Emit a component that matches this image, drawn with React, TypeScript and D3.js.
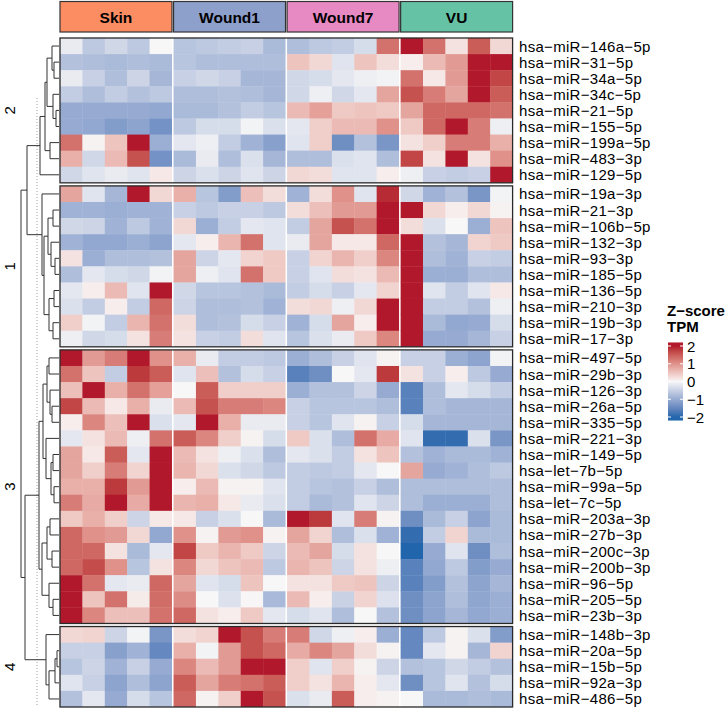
import React, { useEffect, useRef } from 'react'
import * as d3 from 'd3'

const groups = ['Skin', 'Wound1', 'Wound7', 'VU']
const groupColors = ['#FC8D62', '#8DA0CB', '#E78AC3', '#66C2A5']
const samplesPerGroup = 5

const clusterNames = ['2', '1', '3', '4']

const cluster2Rows = ['hsa-miR-146a-5p', 'hsa-miR-31-5p', 'hsa-miR-34a-5p', 'hsa-miR-34c-5p', 'hsa-miR-21-5p',
    'hsa-miR-155-5p', 'hsa-miR-199a-5p', 'hsa-miR-483-3p', 'hsa-miR-129-5p']
const cluster1Rows = ['hsa-miR-19a-3p', 'hsa-miR-21-3p', 'hsa-miR-106b-5p', 'hsa-miR-132-3p', 'hsa-miR-93-3p',
    'hsa-miR-185-5p', 'hsa-miR-136-5p', 'hsa-miR-210-3p', 'hsa-miR-19b-3p', 'hsa-miR-17-3p']
const cluster3Rows = ['hsa-miR-497-5p', 'hsa-miR-29b-3p', 'hsa-miR-126-3p', 'hsa-miR-26a-5p', 'hsa-miR-335-5p',
    'hsa-miR-221-3p', 'hsa-miR-149-5p', 'hsa-let-7b-5p', 'hsa-miR-99a-5p', 'hsa-let-7c-5p', 'hsa-miR-203a-3p',
    'hsa-miR-27b-3p', 'hsa-miR-200c-3p', 'hsa-miR-200b-3p', 'hsa-miR-96-5p', 'hsa-miR-205-5p', 'hsa-miR-23b-3p']
const cluster4Rows = ['hsa-miR-148b-3p', 'hsa-miR-20a-5p', 'hsa-miR-15b-5p', 'hsa-miR-92a-3p', 'hsa-miR-486-5p']

// z-scores, 20 samples per row: Skin x5, Wound1 x5, Wound7 x5, VU x5
const cluster2Values = [
    [-0.15, -0.6, -0.4, -0.6, 0, -0.65, -0.6, -0.55, -0.5, -0.8, -0.75, -0.6, -0.55, -0.35, 1.3, 2, 1.3, 0.2, 1.5, 0.3],
    [-0.7, -0.75, -0.8, -0.75, -0.8, -0.65, -0.75, -0.75, -0.75, -0.75, 0.5, 0.3, -0.25, 0.5, 0.25, 0.1, 0.6, 0.9, 2, 2],
    [-0.15, -0.5, -0.75, -0.45, -0.85, -0.5, -0.4, -0.5, -0.85, -0.85, -0.4, -0.35, -0.2, -0.1, -0.05, 1.3, 0.15, 0.9, 2, 1.7],
    [-0.55, -0.75, -0.55, -0.7, -0.6, -0.75, -0.75, -0.7, -0.75, -0.85, -0.4, -0.1, -0.4, -0.2, 0.8, 1.6, 1.2, 0.8, 2, 1.5],
    [-1, -1, -1, -1, -1.05, -0.8, -0.8, -0.7, -0.55, -0.65, 0.6, 0.85, 0.45, 0.5, 0.45, 0.8, 1.4, 1.4, 1.4, 1.3],
    [-1, -1.05, -1.2, -1.1, -1.35, -0.6, -0.35, -0.35, -0.05, -0.3, -0.2, 0.4, 0.6, 0.6, 1.0, 0.45, 1.4, 2, 1.2, -0.1],
    [1.3, 0.05, 0.5, 2, -0.95, -0.2, -0.1, -0.55, -0.9, -1.15, -0.25, 0.4, -1.4, -0.7, -1.3, 0.2, 0.4, 1.2, 1.2, 0.7],
    [0.7, -0.4, 0.6, 1.6, -1.35, -0.8, -0.15, -0.75, -0.3, -0.85, -0.75, -0.75, -0.3, -0.25, -0.75, 1.7, 0.2, 2, 0.2, 1.0],
    [-0.4, -0.25, -0.15, -0.25, 0.15, -0.45, -0.3, -0.45, -0.25, -0.45, 0.3, 0.25, -0.25, -0.25, 0.1, -0.1, -0.5, -0.55, -0.5, 2]
]
const cluster1Values = [
    [0.8, -0.25, -0.85, 2, 0.3, 0.7, -0.65, -1.2, 0.55, 0.25, -0.9, 0.25, 1.0, -0.25, 1.9, -0.4, -0.9, -0.7, -1.3, -0.05],
    [-0.9, -0.9, -0.95, -0.9, -0.9, -0.5, -0.6, -0.5, -0.5, -0.6, 0.25, 0.55, 0.9, 0.9, 2, 2, 0.3, 0.1, 0.3, 0.05],
    [-0.4, -0.45, -0.9, -0.6, -0.9, 0.3, -0.95, -0.55, -0.2, -0.25, -0.55, 0.8, 1.6, 1.3, 2, 0.25, -0.3, 0, -0.95, 0.5],
    [-0.9, -1.05, -1.05, -0.95, -1.1, -0.2, 0.1, 0.65, 1.3, -0.25, -0.15, 0.8, 0.15, 0.15, 1.4, 2, -0.7, -0.85, 0.35, 0.45],
    [0.2, -0.95, -0.75, -0.75, -0.7, 0.8, -0.45, -0.2, 0.35, 0.45, -0.5, 0.35, 0.65, 0.4, 1.1, 2, -0.75, -0.9, -0.5, -0.55],
    [-0.75, -0.2, -0.35, -0.4, -0.05, 0.8, -0.1, -0.25, 1.3, 0.45, -0.5, -0.25, 0.25, 0.2, 0.6, 2, -0.95, -0.95, -0.75, -0.75],
    [-0.2, 0.1, 0.6, -0.25, 2, -0.4, -0.65, -0.65, -0.7, -0.8, -0.55, -0.35, -0.5, -0.2, 0.35, 2, -0.25, -0.55, -0.25, 0.15],
    [-0.3, -0.55, 0.1, -0.55, 1.4, -0.45, -0.75, -0.75, -0.7, -0.9, 0.25, 0.3, -0.1, 0.3, 2, 2, -0.55, -0.55, -0.7, -0.1],
    [0.4, -0.05, -0.55, 0.65, 1.3, 0.25, -0.75, -0.7, -0.35, -0.5, -0.9, -0.35, 0.8, 0.1, 2, 2, -0.8, -1.05, -1.0, -0.35],
    [-0.1, -0.4, -0.35, 0.2, 1.2, 0.2, -0.5, -0.55, 0.25, -0.25, -0.65, -0.3, -0.15, 0.45, 1.1, 2, -1.0, -1.0, -0.85, -0.5]
]
const cluster3Values = [
    [2, 0.9, 1.2, 2, 1.0, 0.7, -0.15, -0.55, -0.55, -0.6, -0.95, -0.75, -0.5, -0.25, 0.05, -0.5, -0.5, -0.95, -1.1, -0.05],
    [1.3, 0.5, -0.55, 1.8, 1.5, -0.25, 0.55, -0.7, -0.35, -0.5, -1.6, -1.4, 0, -0.2, 1.8, 0.2, -0.5, 0.1, -0.6, -1.0],
    [0.55, 2, 0.7, 1.3, 0.85, 0, 1.5, 0.4, 0.4, 0.4, -0.95, -0.7, -0.7, -0.45, -1.0, -1.6, -0.75, -0.2, -0.35, -0.55],
    [1.7, 0.6, 0.15, 0.7, -0.15, 0.6, 1.6, 1.2, 1.2, 1.1, -0.5, -0.65, -0.65, -0.65, -0.75, -1.6, -0.75, -0.85, -0.85, -0.85],
    [0.1, 1.1, 0.55, 2, -0.3, -0.2, 2, 0.7, -0.15, -0.15, -0.5, -0.65, -0.25, 0.05, -0.5, -0.35, -0.85, -0.85, -0.85, -0.85],
    [-0.2, 0.2, 0.6, -0.1, 1.3, 1.5, 1.1, 0.4, 0.05, -0.35, 0.45, -0.3, -0.75, 1.3, 0.75, -0.25, -1.9, -1.9, -0.3, -1.3],
    [0.8, 0.15, 1.5, -0.2, 2, 0.6, 0.2, -0.1, -0.3, -0.75, -0.2, -0.3, -0.55, 0.2, 0.5, -0.7, -0.9, -0.8, -0.8, -0.9],
    [0.8, 0.4, 1.2, 0.35, 2, 0.65, 0.3, -0.3, -0.4, -0.6, -0.55, -0.6, -0.55, -0.2, 0, 0.8, -1.0, -0.9, -0.75, -0.6],
    [0.7, 0.7, 1.8, 0.9, 2, 0.1, 0.6, 0.05, 0.05, -0.25, -0.55, -0.65, -0.7, -0.5, -0.75, -0.75, -0.75, -0.75, -0.75, -0.75],
    [1.2, 0.75, 2, 0.75, 2, 0.65, 0.7, 0.15, -0.15, -0.3, -0.55, -0.8, -0.7, -0.25, -0.45, -0.75, -0.95, -0.95, -0.95, -0.75],
    [0.45, 0.7, 0.4, -0.45, 0.15, 0.15, -0.5, -0.3, 0, -0.8, 2, 1.8, -0.25, 1.2, 0.05, -1.4, -0.8, -0.5, -1.1, -0.8],
    [1.4, 1.0, 0.9, 0.3, -1.05, 1.0, 0.05, 0.9, 1.0, 0.05, 0.8, 0.35, -0.75, -0.3, -0.9, -1.9, -0.55, 0.35, -0.8, -0.8],
    [1.4, 1.4, 0.2, -0.8, -0.2, 1.7, 0.45, 0.65, 0.45, -0.45, 0.6, 0.8, -0.35, 0.2, 0, -2, -1.0, -0.25, -1.4, -0.75],
    [1.4, 1.65, 1.0, -0.65, 0.2, 1.1, 0.3, 0.5, 0.6, -0.6, 0.65, 0.5, -0.45, 0.2, -0.1, -1.6, -1.05, -0.6, -1.2, -1.0],
    [2, 1.3, -0.2, -0.15, 1.4, 0.8, -0.25, -0.35, 0.5, 0, 0.2, 0.2, 0.45, 0.5, -0.45, -1.6, -1.2, -0.7, -1.1, -0.85],
    [2, 0.5, 1.3, 0.12, 1.35, 1.05, 0, -0.28, 0.02, -0.82, 0.6, 0.1, -0.48, 0.35, -0.28, -1.4, -1.1, -0.75, -1.08, -0.95],
    [2, 1.1, 0.55, 0.55, 1.3, 1.4, 0.2, 0.1, 0.45, -0.2, -0.35, -0.25, -0.75, 0, -0.7, -1.4, -1.1, -0.85, -1.05, -0.95]
]
const cluster4Values = [
    [0.3, 0.35, -0.45, -0.05, -1.3, 0.25, 0.35, 2, 1.6, 1.2, 1.2, -0.4, -0.1, 0.1, -0.95, -1.5, -0.6, 0.05, -0.3, -1.2],
    [-0.5, -0.5, -1.15, -0.9, -1.5, 0.7, -0.05, 0.9, 1.6, 1.4, 0.75, 1.1, 0.8, 0.25, 0.05, -1.5, -0.2, 0.05, -0.85, 0.35],
    [-0.65, -0.45, -0.9, -0.5, -1.0, 1.1, 0.6, 0.9, 2, 2, 0.4, -0.25, 0.4, 0.05, -0.45, -0.7, -0.65, -0.4, -0.55, -0.7],
    [-0.25, -0.5, -1.1, -0.75, -1.1, 1.5, 0.8, 1.2, 1.3, 1.5, 0.4, 0.2, 0.65, 0.1, -0.2, -1.4, -0.65, -0.25, -0.7, -0.35],
    [-0.7, -0.2, -1.0, -0.35, -0.65, 1.4, 0.05, 0.4, 2, 1.6, -0.3, -0.15, 1.5, 0.1, 0.05, 0, -0.8, -0.8, -0.75, -0.8]
]

// row dendrogram: [merge height, left, right], leaves are row numbers
const cluster2Tree = [19, [14, [12, [7, 0, [5, 1, 2]], [6, 3, [3, 4, 5]]], [9, 6, 7]], 8]
const cluster1Tree = [17, 9, [15, [11, [6, 10, 11], [8, 12, [4, 13, 14]]], [10, [5, 15, 16], [6, 17, 18]]]]
const cluster3Tree = [20, [16, [12, [10, 19, 20], [9, 21, [7, 22, 23]]], [13, 24, [8, [6, 25, 26], [5, 27, 28]]]],
    [17, [12, [9, 29, 30], [7, 31, 32]], [10, 33, [6, 34, 35]]]]
const cluster4Tree = [13, 36, [10, [4, [2, 37, 38], 39], 40]]
const rootTree = [38, [32, cluster2Tree, cluster1Tree], [34, cluster3Tree, cluster4Tree]]
const cutHeight = 22

const legendTicks = [2, 1, 0, -1, -2]

const FONT = '"Liberation Sans", Arial, Helvetica, sans-serif'
// R's graphics device draws hyphens as minus signs
const asMinus = (s: string) => s.replace(/-/g, '\u2212')

export default function App() {
    const d3Container = useRef<SVGSVGElement>(null)

    //dimensions of the svg
    const w = 728
    const h = 709

    useEffect(() => {
        const svg = d3.select(d3Container.current)

        const blocks = [
            { name: clusterNames[0], rows: cluster2Rows, values: cluster2Values },
            { name: clusterNames[1], rows: cluster1Rows, values: cluster1Values },
            { name: clusterNames[2], rows: cluster3Rows, values: cluster3Values },
            { name: clusterNames[3], rows: cluster4Rows, values: cluster4Values }
        ]

        //row positions in "row units", with a small gap between slices
        const rowGap = 0.19
        const rowStart: number[] = []
        const blockStart: number[] = []
        let offset = 0
        blocks.forEach((b) => {
            blockStart.push(offset)
            b.rows.forEach((_, i) => rowStart.push(offset + i))
            offset += b.rows.length + rowGap
        })
        const totalRows = offset - rowGap

        const nCols = groups.length * samplesPerGroup
        const colGap = 0.07
        const colStart = d3.range(nCols).map(i => i + Math.floor(i / samplesPerGroup) * colGap)
        const totalCols = nCols + (groups.length - 1) * colGap

        const yscale = d3.scaleLinear().domain([0, totalRows]).range([38, 707])
        const xscale = d3.scaleLinear().domain([0, totalCols]).range([60, 512.6])

        const color = d3.scaleLinear<string>()
            .domain([-2, 0, 2])
            .range(['#2166AC', '#F7F7F7', '#B2182B'])
            .interpolate(d3.interpolateLab)
            .clamp(true)

        //column annotation
        const header = svg.append('g')
        groups.forEach((g, gi) => {
            const x0 = xscale(colStart[gi * samplesPerGroup])
            const x1 = xscale(colStart[gi * samplesPerGroup + samplesPerGroup - 1] + 1)
            header.append('rect')
                .attr('x', x0).attr('y', 1.5)
                .attr('width', x1 - x0).attr('height', 30.5)
                .attr('fill', groupColors[gi])
                .attr('stroke', '#333').attr('stroke-width', 1.2)
            header.append('text')
                .attr('x', (x0 + x1) / 2).attr('y', 17)
                .attr('text-anchor', 'middle').attr('dominant-baseline', 'central')
                .attr('font-family', FONT).attr('font-size', 15.5).attr('font-weight', 'bold')
                .text(g)
        })

        //heatmap cells
        const cells = svg.append('g')
        let r = 0
        blocks.forEach((b, bi) => {
            b.values.forEach((row, ri) => {
                const y0 = yscale(rowStart[r])
                const y1 = yscale(rowStart[r] + 1)
                const lastRow = ri === b.values.length - 1
                row.forEach((v, c) => {
                    const x0 = xscale(colStart[c])
                    const x1 = xscale(colStart[c] + 1)
                    const lastInGroup = c % samplesPerGroup === samplesPerGroup - 1
                    cells.append('rect')
                        .attr('x', x0).attr('y', y0)
                        .attr('width', x1 - x0 + (lastInGroup ? 0 : 0.4))
                        .attr('height', y1 - y0 + (lastRow ? 0 : 0.4))
                        .attr('fill', color(v))
                })
                r++
            })
            //slice border
            cells.append('rect')
                .attr('x', xscale(0)).attr('y', yscale(blockStart[bi]))
                .attr('width', xscale(totalCols) - xscale(0))
                .attr('height', yscale(blockStart[bi] + b.rows.length) - yscale(blockStart[bi]))
                .attr('fill', 'none').attr('stroke', '#2a2a2a').attr('stroke-width', 1.3)
        })

        //row labels
        const labels = svg.append('g')
        blocks.flatMap(b => b.rows).forEach((name, i) => {
            labels.append('text')
                .attr('x', 519).attr('y', yscale(rowStart[i] + 0.5))
                .attr('dominant-baseline', 'central')
                .attr('font-family', FONT).attr('font-size', 15)
                .attr('letter-spacing', 0.3)
                .text(asMinus(name))
        })

        //cluster labels
        blocks.forEach((b, bi) => {
            const cy = yscale(blockStart[bi] + b.rows.length / 2)
            svg.append('text')
                .attr('transform', `translate(9, ${cy}) rotate(-90)`)
                .attr('text-anchor', 'middle').attr('dominant-baseline', 'central')
                .attr('font-family', FONT).attr('font-size', 15)
                .text(b.name)
        })

        //row dendrogram
        const hscale = d3.scaleLinear().domain([0, rootTree[0] as number]).range([59, 21])
        const root = d3.hierarchy<any>(rootTree, d => Array.isArray(d) ? d.slice(1) : null)
        root.eachAfter((node: any) => {
            if (node.children) {
                node.h = node.data[0]
                node.py = d3.mean(node.children, (c: any) => c.py)
            } else {
                node.h = 0
                node.py = yscale(rowStart[node.data] + 0.5)
            }
        })

        svg.append('line')
            .attr('x1', hscale(cutHeight)).attr('x2', hscale(cutHeight))
            .attr('y1', 98).attr('y2', 707)
            .attr('stroke', '#888').attr('stroke-width', 0.8)
            .attr('stroke-dasharray', '1,2')

        const dend = svg.append('g')
            .attr('fill', 'none').attr('stroke', '#333').attr('stroke-width', 1)
        root.each((node: any) => {
            if (!node.children) return
            const x = hscale(node.h)
            const ys = node.children.map((c: any) => c.py)
            dend.append('line')
                .attr('x1', x).attr('x2', x)
                .attr('y1', d3.min(ys)).attr('y2', d3.max(ys))
            node.children.forEach((c: any) => {
                dend.append('line')
                    .attr('x1', x).attr('x2', hscale(c.h))
                    .attr('y1', c.py).attr('y2', c.py)
            })
        })

        //legend
        const legend = svg.append('g')
        legend.append('text')
            .attr('x', 667).attr('y', 316)
            .attr('font-family', FONT).attr('font-size', 15).attr('font-weight', 'bold')
            .text(asMinus('Z-score'))
        legend.append('text')
            .attr('x', 667).attr('y', 332)
            .attr('font-family', FONT).attr('font-size', 15).attr('font-weight', 'bold')
            .text('TPM')

        const lscale = d3.scaleLinear().domain([2, -2]).range([346, 417])
        const grad = svg.append('defs').append('linearGradient')
            .attr('id', 'zgrad').attr('x1', 0).attr('x2', 0).attr('y1', 0).attr('y2', 1)
        d3.range(0, 1.0001, 0.05).forEach((t) => {
            grad.append('stop')
                .attr('offset', t)
                .attr('stop-color', color(2.2 - t * 4.4))
        })
        legend.append('rect')
            .attr('x', 668).attr('y', lscale(2.2))
            .attr('width', 15).attr('height', lscale(-2.2) - lscale(2.2))
            .attr('fill', 'url(#zgrad)')

        legendTicks.forEach((t) => {
            const y = lscale(t)
            legend.append('line')
                .attr('x1', 668).attr('x2', 671).attr('y1', y).attr('y2', y)
                .attr('stroke', 'white').attr('stroke-width', 1)
            legend.append('line')
                .attr('x1', 680).attr('x2', 683).attr('y1', y).attr('y2', y)
                .attr('stroke', 'white').attr('stroke-width', 1)
            legend.append('text')
                .attr('x', 687).attr('y', y)
                .attr('dominant-baseline', 'central')
                .attr('font-family', FONT).attr('font-size', 15)
                .text(d3.format('d')(t))
        })

        return () => {
            svg.selectAll('*').remove()
        }
    }, [])

    return (
        <div style={{ position: 'absolute', left: 0, top: 0 }}>
            <svg
                width={w}
                height={h}
                ref={d3Container}
                style={{ display: 'block', background: 'white' }}
            />
        </div>
    )
}
